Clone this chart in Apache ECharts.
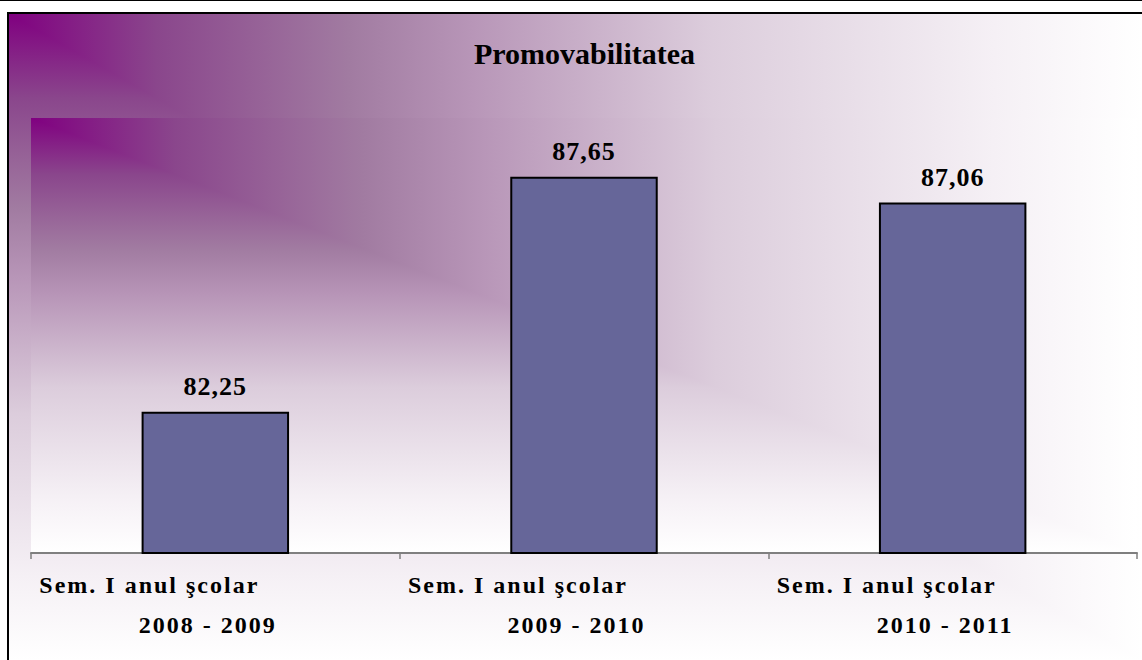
<!DOCTYPE html>
<html>
<head>
<meta charset="utf-8">
<title>Promovabilitatea</title>
<script src="https://cdn.jsdelivr.net/npm/echarts@6/dist/echarts.min.js"></script>
<style>
  html, body { margin: 0; padding: 0; width: 1142px; height: 660px; overflow: hidden; background: #fff; }
  #topline { position: absolute; left: 0; top: 0; width: 1142px; border-top: 1px solid #000; }
  #frame { position: absolute; left: 7px; top: 12px; width: 1133px; height: 646px;
           border-left: 2px solid #000; border-top: 2px solid #000; }
  /* Excel "from corner" fill: colour depends on max(u, v) -> lighten blend of two ramps */
  .cornerFill {
    background-image:
      linear-gradient(to right, #800080 0%, #8a468c 13%, #a17ba1 30%, #b896b8 41%, #dccddc 62%, #f5f0f5 87%, #ffffff 100%),
      linear-gradient(to bottom, #800080 0%, #8a468c 13%, #a17ba1 30%, #b896b8 41%, #dccddc 62%, #f5f0f5 87%, #ffffff 100%);
    background-blend-mode: lighten;
  }
  #plotBg { position: absolute; }
  #chart { position: absolute; left: 0; top: 0; width: 1133px; height: 646px; }
  /* the original (Excel) text is drawn with wide letter spacing */
  #chart text[style*="24px"] { letter-spacing: 2px; }
  #chart text[style*="26px"] { letter-spacing: 1px; }
</style>
</head>
<body>
<div id="topline"></div>
<div id="frame" class="cornerFill">
  <div id="plotBg" class="cornerFill"></div>
  <div id="chart"></div>
</div>
<script>
const titleText = "Promovabilitatea";
const semester = "Sem. I anul şcolar";
const years = ["2008 - 2009", "2009 - 2010", "2010 - 2011"];
const promovabilitate = [82.25, 87.65, 87.06];
const yMin = 79;
const yMax = 89;

const font = "Liberation Serif";
const gridBox = { left: 22, right: 5, top: 104, bottom: 107 };

// plot-area fill sits behind the (transparent) chart, same box as the grid
const el = document.getElementById("chart");
const plotBg = document.getElementById("plotBg");
plotBg.style.left = gridBox.left + "px";
plotBg.style.top = gridBox.top + "px";
plotBg.style.width = (el.clientWidth - gridBox.left - gridBox.right) + "px";
plotBg.style.height = (el.clientHeight - gridBox.top - gridBox.bottom) + "px";

const chart = echarts.init(el, null, { renderer: "svg" });

chart.setOption({
  animation: false,
  backgroundColor: "transparent",
  title: {
    text: titleText,
    left: 465,
    top: 24,
    padding: 0,
    textStyle: { fontFamily: font, fontSize: 30, fontWeight: "bold", color: "#000" }
  },
  grid: {
    left: gridBox.left,
    right: gridBox.right,
    top: gridBox.top,
    bottom: gridBox.bottom,
    show: false
  },
  xAxis: {
    type: "category",
    data: years,
    axisLine: { lineStyle: { color: "#7f7f7f", width: 2 } },
    axisTick: { show: true, length: 6, lineStyle: { color: "#7f7f7f", width: 1.5 } },
    axisLabel: {
      margin: 12,
      interval: 0,
      formatter: function (v) {
        return "{a|" + semester + "}\n{b|" + v + "}";
      },
      rich: {
        a: { fontFamily: font, fontSize: 24, fontWeight: "bold", color: "#000", lineHeight: 40, align: "center", padding: [0, 132, 0, 0] },
        b: { fontFamily: font, fontSize: 24, fontWeight: "bold", color: "#000", lineHeight: 40, align: "center", padding: [0, 15, 0, 0] }
      }
    }
  },
  yAxis: {
    type: "value",
    min: yMin,
    max: yMax,
    show: false,
    splitLine: { show: false }
  },
  series: [
    {
      type: "bar",
      data: promovabilitate,
      barWidth: "40%",
      itemStyle: { color: "#666699", borderColor: "#000", borderWidth: 2 },
      label: {
        show: true,
        position: "top",
        distance: 12,
        fontFamily: font,
        fontSize: 26,
        fontWeight: "bold",
        color: "#000",
        formatter: function (p) {
          return p.value.toFixed(2).replace(".", ",");
        }
      }
    }
  ]
});
</script>
</body>
</html>
